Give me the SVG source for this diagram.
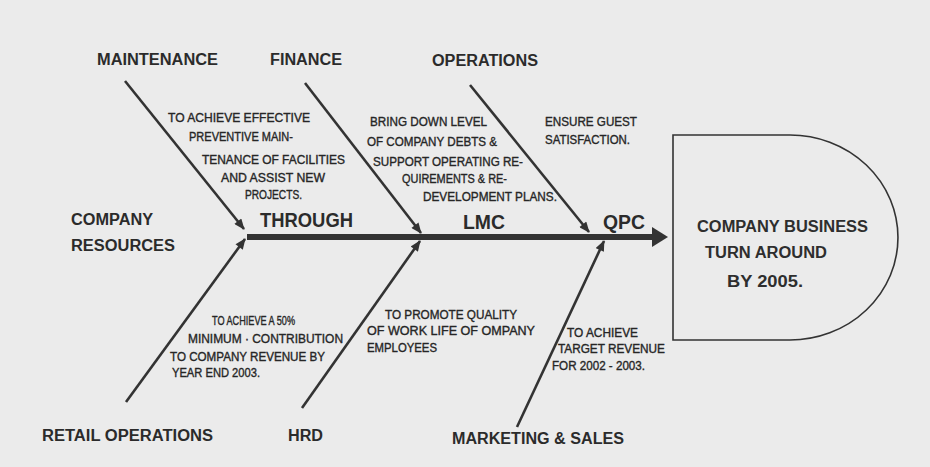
<svg xmlns="http://www.w3.org/2000/svg" width="930" height="467" viewBox="0 0 930 467">
  <style>
    .lbl { font-family: "Liberation Sans", Arial, sans-serif; font-weight: bold; font-size: 16px; fill: #2b2b2b; }
    .big { font-family: "Liberation Sans", Arial, sans-serif; font-weight: bold; font-size: 21px; fill: #2b2b2b; }
    .note { font-family: "Liberation Sans", Arial, sans-serif; font-size: 12px; fill: #262626; stroke: #262626; stroke-width: 0.35; }
    .bone { stroke: #333; stroke-width: 2.6; fill: none; marker-end: url(#tip); }
    .head { fill: #2e2e2e; font-family: "Liberation Sans", Arial, sans-serif; font-weight: bold; font-size: 16px; }
  </style>
  <defs>
    <marker id="tip" viewBox="0 0 12 10" refX="11" refY="5" markerWidth="12" markerHeight="9" markerUnits="userSpaceOnUse" orient="auto">
      <path d="M0,0 L12,5 L0,10 Z" fill="#333"/>
    </marker>
  </defs>

  <rect width="930" height="467" fill="#ebebeb"/>

  <!-- connectors: spine and cause bones -->
  <g id="connectors">
    <line x1="247" y1="237" x2="655" y2="237" stroke="#333" stroke-width="6"/>
    <polygon points="652,227 668,237 652,247" fill="#333"/>
    <line class="bone" x1="125" y1="81" x2="244" y2="229"/>
    <line class="bone" x1="305" y1="83" x2="421" y2="233"/>
    <line class="bone" x1="470" y1="85" x2="589" y2="232"/>
    <line class="bone" x1="126" y1="402" x2="245" y2="239"/>
    <line class="bone" x1="302" y1="408" x2="420" y2="241"/>
    <line class="bone" x1="517" y1="427" x2="604" y2="241"/>
  </g>

  <!-- effect head -->
  <g id="head">
    <path d="M673,135 H790 A108,102.5 0 0 1 790,340 H673 Z" fill="none" stroke="#333" stroke-width="1.6"/>
    <text class="head" x="697" y="232" textLength="171" lengthAdjust="spacingAndGlyphs">COMPANY BUSINESS</text>
    <text class="head" x="705" y="258" textLength="122" lengthAdjust="spacingAndGlyphs">TURN AROUND</text>
    <text class="head" x="727" y="287" textLength="76" lengthAdjust="spacingAndGlyphs">BY 2005.</text>
  </g>

  <g id="company-resources">
    <text class="lbl" x="71" y="225" textLength="82" lengthAdjust="spacingAndGlyphs">COMPANY</text>
    <text class="lbl" x="71" y="251" textLength="104" lengthAdjust="spacingAndGlyphs">RESOURCES</text>
  </g>

  <g id="stages">
    <text class="big" x="260" y="227" textLength="93" lengthAdjust="spacingAndGlyphs">THROUGH</text>
    <text class="big" x="463" y="229" textLength="42" lengthAdjust="spacingAndGlyphs">LMC</text>
    <text class="big" x="603" y="229" textLength="42" lengthAdjust="spacingAndGlyphs">QPC</text>
  </g>

  <g id="maintenance">
    <text class="lbl" x="97" y="65" textLength="121" lengthAdjust="spacingAndGlyphs">MAINTENANCE</text>
    <text class="note" x="168" y="122" textLength="142" lengthAdjust="spacingAndGlyphs">TO  ACHIEVE EFFECTIVE</text>
    <text class="note" x="189" y="141" textLength="104" lengthAdjust="spacingAndGlyphs">PREVENTIVE MAIN-</text>
    <text class="note" x="202" y="164" textLength="143" lengthAdjust="spacingAndGlyphs">TENANCE OF  FACILITIES</text>
    <text class="note" x="221" y="182" textLength="104" lengthAdjust="spacingAndGlyphs">AND  ASSIST NEW</text>
    <text class="note" x="245" y="199" textLength="57" lengthAdjust="spacingAndGlyphs">PROJECTS.</text>
  </g>

  <g id="finance">
    <text class="lbl" x="270" y="65" textLength="72" lengthAdjust="spacingAndGlyphs">FINANCE</text>
    <text class="note" x="370" y="126" textLength="117" lengthAdjust="spacingAndGlyphs">BRING DOWN LEVEL</text>
    <text class="note" x="367" y="146" textLength="130" lengthAdjust="spacingAndGlyphs">OF COMPANY DEBTS &amp;</text>
    <text class="note" x="373" y="166" textLength="150" lengthAdjust="spacingAndGlyphs">SUPPORT OPERATING RE-</text>
    <text class="note" x="402" y="183" textLength="105" lengthAdjust="spacingAndGlyphs">QUIREMENTS &amp;  RE-</text>
    <text class="note" x="423" y="201" textLength="134" lengthAdjust="spacingAndGlyphs">DEVELOPMENT PLANS.</text>
  </g>

  <g id="operations">
    <text class="lbl" x="432" y="66" textLength="106" lengthAdjust="spacingAndGlyphs">OPERATIONS</text>
    <text class="note" x="545" y="126" textLength="92" lengthAdjust="spacingAndGlyphs">ENSURE GUEST</text>
    <text class="note" x="545" y="144" textLength="85" lengthAdjust="spacingAndGlyphs">SATISFACTION.</text>
  </g>

  <g id="retail-operations">
    <text class="lbl" x="42" y="441" textLength="171" lengthAdjust="spacingAndGlyphs">RETAIL OPERATIONS</text>
    <text class="note" x="212" y="325" textLength="83" lengthAdjust="spacingAndGlyphs">TO ACHIEVE A 50%</text>
    <text class="note" x="188" y="343" textLength="155" lengthAdjust="spacingAndGlyphs">MINIMUM · CONTRIBUTION</text>
    <text class="note" x="170" y="361" textLength="155" lengthAdjust="spacingAndGlyphs">TO COMPANY REVENUE BY</text>
    <text class="note" x="172" y="377" textLength="88" lengthAdjust="spacingAndGlyphs">YEAR END 2003.</text>
  </g>

  <g id="hrd">
    <text class="lbl" x="288" y="441" textLength="35" lengthAdjust="spacingAndGlyphs">HRD</text>
    <text class="note" x="385" y="319" textLength="132" lengthAdjust="spacingAndGlyphs">TO PROMOTE QUALITY</text>
    <text class="note" x="367" y="335" textLength="168" lengthAdjust="spacingAndGlyphs">OF WORK  LIFE OF    OMPANY</text>
    <text class="note" x="367" y="352" textLength="70" lengthAdjust="spacingAndGlyphs">EMPLOYEES</text>
  </g>

  <g id="marketing-sales">
    <text class="lbl" x="452" y="444" textLength="172" lengthAdjust="spacingAndGlyphs">MARKETING &amp; SALES</text>
    <text class="note" x="567" y="337" textLength="71" lengthAdjust="spacingAndGlyphs">TO ACHIEVE</text>
    <text class="note" x="558" y="353" textLength="107" lengthAdjust="spacingAndGlyphs">TARGET REVENUE</text>
    <text class="note" x="552" y="370" textLength="93" lengthAdjust="spacingAndGlyphs">FOR 2002 - 2003.</text>
  </g>
</svg>
